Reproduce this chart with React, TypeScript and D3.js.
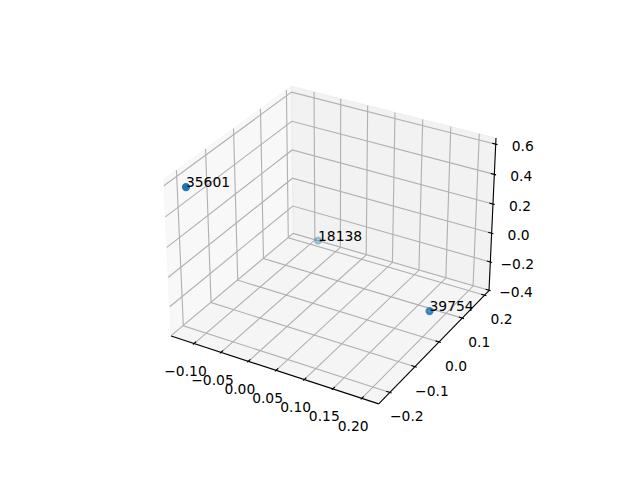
import React from "react";
import * as d3 from "d3";

const xTicks = [-0.1, -0.05, 0, 0.05, 0.1, 0.15, 0.2];
const xTickLabels = ["−0.10", "−0.05", "0.00", "0.05", "0.10", "0.15", "0.20"];
const yTicks = [-0.2, -0.1, 0, 0.1, 0.2];
const yTickLabels = ["−0.2", "−0.1", "0.0", "0.1", "0.2"];
const zTicks = [-0.4, -0.2, 0, 0.2, 0.4, 0.6];
const zTickLabels = ["−0.4", "−0.2", "0.0", "0.2", "0.4", "0.6"];
const labels = ["35601", "18138", "39754"];
const xs = [-0.119, -0.08, 0.206];
const ys = [-0.214, 0.191, 0.012];
const zs = [0.575, -0.342, -0.237];
const xLim = [-0.143, 0.229];
const yLim = [-0.243, 0.22];
const zLim = [-0.403, 0.64];

type V = [number, number, number];
const el = (30 * Math.PI) / 180, az = (-60 * Math.PI) / 180, dist = 10;
const k = (1.8294640721620434 * 25) / 24 / Math.hypot(4, 4, 3);
const box: V = [4 * k, 4 * k, 3 * k];
const n: V = [Math.cos(el) * Math.cos(az), Math.cos(el) * Math.sin(az), Math.sin(el)];
const un = Math.hypot(n[1], n[0]);
const u: V = [-n[1] / un, n[0] / un, 0];
const v: V = [n[1] * u[2] - n[2] * u[1], n[2] * u[0] - n[0] * u[2], n[0] * u[1] - n[1] * u[0]];
const dot = (a: V, b: V) => a[0] * b[0] + a[1] * b[1] + a[2] * b[2];
const sx = d3.scaleLinear().domain(xLim).range([0, box[0]]);
const sy = d3.scaleLinear().domain(yLim).range([0, box[1]]);
const sz = d3.scaleLinear().domain(zLim).range([0, box[2]]);
const px = d3.scaleLinear().domain([-0.095, 0.09]).range([143.2, 512.8]);
const py = d3.scaleLinear().domain([-0.095, 0.09]).range([427.2, 57.6]);
const rel = (x: number, y: number, z: number): V => [sx(x) - box[0] / 2, sy(y) - box[1] / 2, sz(z) - box[2] / 2];
const proj = (x: number, y: number, z: number): [number, number] => {
  const p = rel(x, y, z);
  const w = dist - dot(n, p);
  return [px(dot(u, p) / w), py(dot(v, p) / w)];
};
const line = d3.line();
const P = (pts: V[], close = false) => line(pts.map((p) => proj(p[0], p[1], p[2]))) + (close ? "Z" : "");

const [x0, x1] = xLim, [y0, y1] = yLim, [z0, z1] = zLim;
const dx = (x1 - x0) / 12, dy = (y1 - y0) / 12;
const FONT = "'DejaVu Sans'";
const FS = 13.89;
const gridC = "#b0b0b0";

const depth = xs.map((x, i) => dot(n, rel(x, ys[i], zs[i])));
const alpha = d3.scaleLinear().domain(d3.extent(depth) as [number, number]).range([0.3, 1]);

export default function App() {
  const grid: string[] = [];
  xTicks.forEach((t) => grid.push(P([[t, y0, z0], [t, y1, z0], [t, y1, z1]])));
  yTicks.forEach((t) => grid.push(P([[x0, t, z1], [x0, t, z0], [x1, t, z0]])));
  zTicks.forEach((t) => grid.push(P([[x0, y0, t], [x0, y1, t], [x1, y1, t]])));
  const ticks: string[] = [];
  xTicks.forEach((t) => ticks.push(P([[t, y0 + 0.2 * dy, z0], [t, y0 - 0.1 * dy, z0]])));
  yTicks.forEach((t) => ticks.push(P([[x1 - 0.2 * dx, t, z0], [x1 + 0.1 * dx, t, z0]])));
  zTicks.forEach((t) => ticks.push(P([[x1 - 0.2 * dx, y1, t], [x1 + 0.1 * dx, y1, t]])));
  const tl = (ts: number[], ls: string[], f: (t: number) => [number, number], ox: number, oy: number) =>
    ts.map((t, i) => {
      const [a, b] = f(t);
      return (
        <text key={ls[i]} x={a + ox} y={b + oy + 5} textAnchor="middle" fontFamily={FONT} fontSize={FS} fill="#000">
          {ls[i]}
        </text>
      );
    });
  return (
    <svg width={640} height={480} style={{ position: "absolute", left: 0, top: 0, background: "#fff" }}>
      <path d={P([[x0, y0, z0], [x0, y1, z0], [x0, y1, z1], [x0, y0, z1]], true)} fill="rgb(242,242,242)" fillOpacity={0.5} stroke="rgb(242,242,242)" strokeOpacity={0.5} />
      <path d={P([[x0, y1, z0], [x1, y1, z0], [x1, y1, z1], [x0, y1, z1]], true)} fill="rgb(230,230,230)" fillOpacity={0.5} stroke="rgb(230,230,230)" strokeOpacity={0.5} />
      <path d={P([[x0, y0, z0], [x1, y0, z0], [x1, y1, z0], [x0, y1, z0]], true)} fill="rgb(236,236,236)" fillOpacity={0.5} stroke="rgb(236,236,236)" strokeOpacity={0.5} />
      {grid.map((d, i) => <path key={i} d={d} fill="none" stroke={gridC} strokeWidth={1.11} />)}
      <path d={P([[x0, y0, z0], [x1, y0, z0]])} stroke="#000" strokeWidth={1.11} fill="none" />
      <path d={P([[x1, y0, z0], [x1, y1, z0]])} stroke="#000" strokeWidth={1.11} fill="none" />
      <path d={P([[x1, y1, z0], [x1, y1, z1]])} stroke="#000" strokeWidth={1.11} fill="none" />
      {ticks.map((d, i) => <path key={i} d={d} fill="none" stroke="#000" strokeWidth={1.11} />)}
      {tl(xTicks, xTickLabels, (t) => proj(t, y0, z0), -8.5, 27.5)}
      {tl(yTicks, yTickLabels, (t) => proj(x1, t, z0), 17, 24)}
      {tl(zTicks, zTickLabels, (t) => proj(x1, y1, t), 27, 1.5)}
      {xs.map((x, i) => {
        const [a, b] = proj(x, ys[i], zs[i]);
        return <circle key={i} cx={a} cy={b} r={3.1} fill="#1f77b4" fillOpacity={alpha(depth[i])} stroke="#1f77b4" strokeOpacity={alpha(depth[i])} strokeWidth={2.08} />;
      })}
      {xs.map((x, i) => {
        const [a, b] = proj(x, ys[i], zs[i]);
        return <text key={i} x={a} y={b} fontFamily={FONT} fontSize={FS} fill="#000">{labels[i]}</text>;
      })}
    </svg>
  );
}
